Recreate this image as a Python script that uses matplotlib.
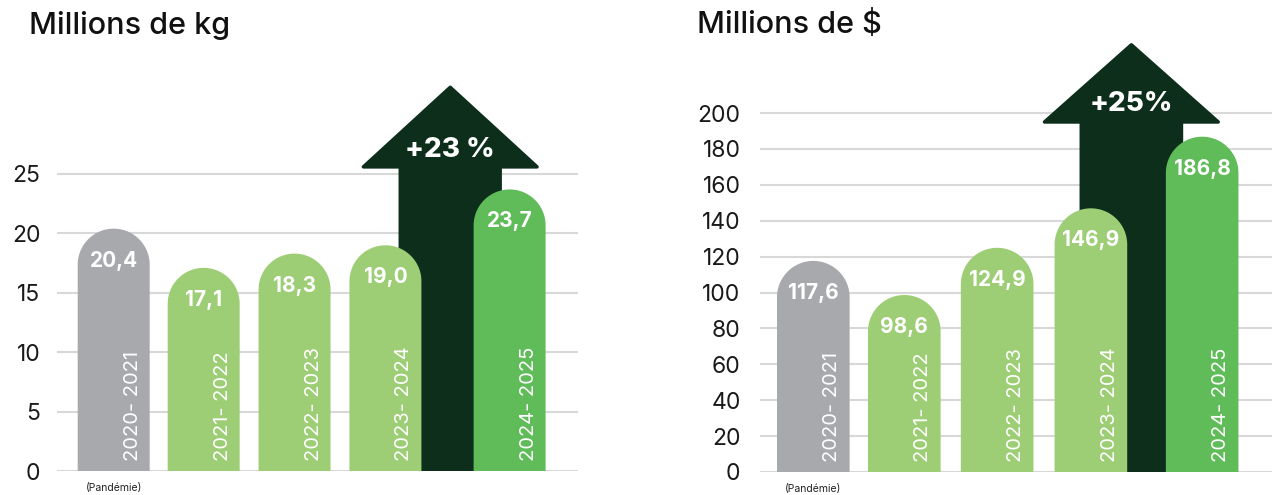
import matplotlib
matplotlib.use("Agg")
import matplotlib.pyplot as plt
import numpy as np

plt.rcParams['font.family'] = ['Inter', 'DejaVu Sans']

# data
periods = ["2020- 2021", "2021- 2022", "2022- 2023", "2023- 2024", "2024- 2025"]
kg_values = [20.4, 17.1, 18.3, 19.0, 23.7]
kg_labels = ["20,4", "17,1", "18,3", "19,0", "23,7"]
usd_values = [117.6, 98.6, 124.9, 146.9, 186.8]
usd_labels = ["117,6", "98,6", "124,9", "146,9", "186,8"]
kg_growth = "+23 %"
usd_growth = "+25%"

# layout / style
GRAY = "#a8a9ad"
LIGHT = "#9dce75"
BRIGHT = "#5fbc59"
DARK = "#0c2e1b"
colors = [GRAY, LIGHT, LIGHT, LIGHT, BRIGHT]

W, H = 1272, 495
fig = plt.figure(figsize=(W / 100, H / 100), dpi=100)


def make_ax(px_left, px_right, px_bottom, px_top, xlim, ylim):
    ax = fig.add_axes([px_left / W, (H - px_bottom) / H,
                       (px_right - px_left) / W, (px_bottom - px_top) / H])
    ax.set_xlim(*xlim)
    ax.set_ylim(*ylim)
    for s in ax.spines.values():
        s.set_visible(False)
    ax.set_xticks([])
    ax.tick_params(axis='y', length=0, labelsize=16.5, labelcolor="#1a1a1a")
    ax.set_axisbelow(True)
    ax.grid(axis='y', color="#d8d8d8", linewidth=1.5)
    return ax


def rounded_bar(ax, c, w, v, color, x_ppu, y_ppu):
    r = w / 2
    ry = r * x_ppu / y_ppu
    t = np.linspace(np.pi, 0, 60)
    xs = np.concatenate([[c - r], c + r * np.cos(t), [c + r]])
    ys = np.concatenate([[0], v - ry + ry * np.sin(t), [0]])
    ax.fill(xs, ys, color=color, zorder=3, linewidth=0)


def arrow(ax, cx, body_w, head_w, head_base, tip):
    xs = [cx - body_w / 2, cx - body_w / 2, cx - head_w / 2, cx,
          cx + head_w / 2, cx + body_w / 2, cx + body_w / 2]
    ys = [0, head_base, head_base, tip, head_base, head_base, 0]
    ax.fill(xs, ys, color=DARK, zorder=2, linewidth=2.5, joinstyle='round', edgecolor=DARK)


def draw_panel(ax, positions, values, labels, width, x_ppu, y_ppu, arr, growth, growth_xy):
    arrow(ax, *arr)
    for x, v, lab, per, col in zip(positions, values, labels, periods, colors):
        rounded_bar(ax, x, width, v, col, x_ppu, y_ppu)
        ax.annotate(lab, (x, v), xytext=(0, -32), textcoords='offset pixels',
                    ha='center', va='center', color='white', fontsize=15,
                    fontweight='bold', zorder=5)
        ax.annotate(per, (x, 0), xytext=(19, 10), textcoords='offset pixels',
                    ha='center', va='bottom', rotation=90, color='white',
                    fontsize=14.5, fontweight='normal', zorder=5)
    ax.text(growth_xy[0], growth_xy[1], growth, ha='center', va='center', color='white',
            fontsize=20, fontweight='heavy', zorder=5)
    ax.annotate("(Pandémie)", (positions[0], 0), xytext=(0, -17), textcoords='offset pixels',
                ha='center', va='center', fontsize=7.5, color="#222222",
                annotation_clip=False)


# left panel: millions de kg
kg_x = [0, 1, 2.01, 3.02, 4.4]
ax1 = make_ax(57, 578, 471, 40, (-0.63, 5.16), (0, 431 / 11.88))
ax1.set_yticks([0, 5, 10, 15, 20, 25])
ax1.tick_params(axis='y', pad=12)
draw_panel(ax1, kg_x, kg_values, kg_labels, 0.8, 90, 11.88,
           (3.74, 1.11, 1.93, 25.6, 32.3), kg_growth, (3.74, 27.0))
fig.text(29 / W, 1 - 25 / H, "Millions de kg", fontsize=22, fontweight='medium',
         va='center', ha='left', color="#111111")

# right panel: millions de $
usd_x = [0, 0.99, 2.0, 3.02, 4.23]
ax2 = make_ax(760, 1272, 472, 30, (-0.58, 4.99), (0, 442 / 1.795))
ax2.set_yticks(np.arange(0, 201, 20))
ax2.tick_params(axis='y', pad=14)
draw_panel(ax2, usd_x, usd_values, usd_labels, 0.79, 92, 1.795,
           (3.46, 1.09, 1.89, 195, 238), usd_growth, (3.46, 205))
fig.text(697 / W, 1 - 25 / H, "Millions de $", fontsize=22, fontweight='medium',
         va='center', ha='left', color="#111111")

fig.savefig("out.png", dpi=100)
